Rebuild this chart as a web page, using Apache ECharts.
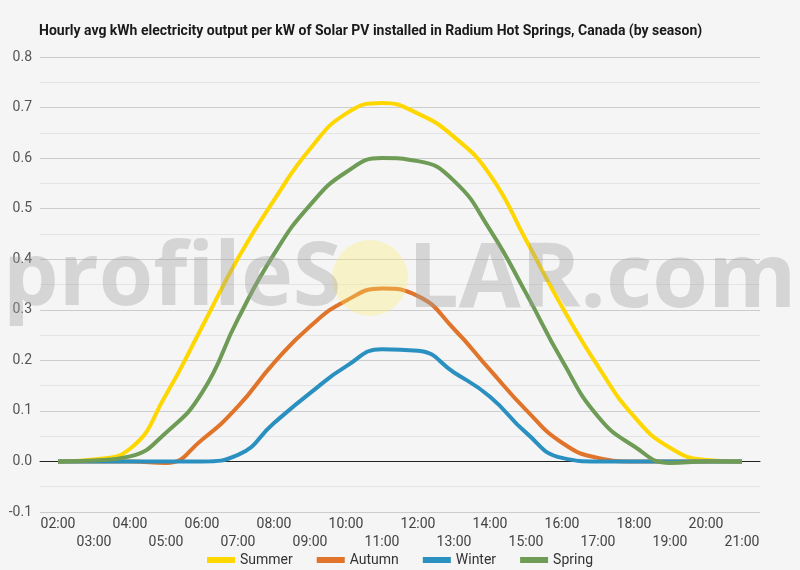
<!DOCTYPE html>
<html>
<head>
<meta charset="utf-8">
<script src="https://cdn.jsdelivr.net/npm/echarts@6/dist/echarts.min.js"></script>
<style>
html,body{margin:0;padding:0;background:#f5f5f5;}
#chart{width:800px;height:570px;}
</style>
</head>
<body>
<div id="chart"></div>
<script>
var hours = ['02:00','03:00','04:00','05:00','06:00','07:00','08:00','09:00','10:00','11:00',
             '12:00','13:00','14:00','15:00','16:00','17:00','18:00','19:00','20:00','21:00'];
var summer = [0, 0.004, 0.025, 0.132, 0.266, 0.402, 0.517, 0.618, 0.688, 0.709,
              0.688, 0.642, 0.567, 0.438, 0.306, 0.188, 0.089, 0.027, 0.003, 0];
var autumn = [0, 0, 0, -0.003, 0.043, 0.109, 0.195, 0.267, 0.318, 0.342,
              0.327, 0.262, 0.181, 0.102, 0.037, 0.007, 0, 0, 0, 0];
var winter = [0, 0, 0, 0, 0, 0.013, 0.076, 0.135, 0.188, 0.222,
              0.219, 0.176, 0.128, 0.057, 0.007, 0, 0, 0, 0, 0];
var spring = [0, 0.002, 0.01, 0.057, 0.136, 0.282, 0.41, 0.507, 0.572, 0.6,
              0.594, 0.555, 0.458, 0.333, 0.2, 0.089, 0.03, -0.003, 0, 0];
var seriesNames = ['Summer', 'Autumn', 'Winter', 'Spring'];
var seriesColors = ['#FFD700', '#E0742A', '#2A90C0', '#6E9B55'];
var yTicks = [-0.1, 0, 0.1, 0.2, 0.3, 0.4, 0.5, 0.6, 0.7, 0.8];

var seriesData = [summer, autumn, winter, spring];
var chart = echarts.init(document.getElementById('chart'));
var FONT = 'Roboto';
chart.setOption({
  backgroundColor: '#f5f5f5',
  animation: false,
  title: {
    text: 'Hourly avg kWh electricity output per kW of Solar PV installed in Radium Hot Springs, Canada (by season)',
    left: 34, top: 19,
    textStyle: {fontFamily: FONT, fontSize: 14, fontWeight: 'bold', color: '#1a1a1a'}
  },
  legend: {
    top: 548, left: 'center',
    icon: 'rect', itemWidth: 28, itemHeight: 6, itemGap: 24,
    textStyle: {fontFamily: FONT, fontSize: 14, color: '#333'},
    data: seriesNames
  },
  grid: {left: 40, right: 40, top: 57, bottom: 58, containLabel: false},
  xAxis: {
    type: 'category',
    data: hours,
    boundaryGap: true,
    axisLine: {onZero: true, lineStyle: {color: '#222', width: 1}},
    axisTick: {show: false},
    axisLabel: {
      interval: 0, hideOverlap: false, margin: 3,
      fontFamily: FONT, fontSize: 14, color: '#444', lineHeight: 18,
      formatter: function (v, i) { return (i % 2 === 1) ? '\n' + v : v; }
    },
    splitLine: {show: false}
  },
  yAxis: {
    type: 'value',
    min: yTicks[0], max: yTicks[yTicks.length - 1], interval: 0.1,
    axisLine: {show: false},
    axisTick: {show: false},
    axisLabel: {
      margin: 8, fontFamily: FONT, fontSize: 14, color: '#555',
      formatter: function (v) { return v.toFixed(1); }
    },
    splitLine: {lineStyle: {color: '#cccccc', width: 1}},
    minorTick: {show: false, splitNumber: 2},
    minorSplitLine: {show: true, lineStyle: {color: '#e4e4e4', width: 1}}
  },
  graphic: [
    {type: 'text', left: 3, top: 236, z: 100, silent: true,
     style: {text: 'profileS', fontFamily: 'Open Sans', fontWeight: 'bold', fontSize: 88,
             fill: 'rgba(160,160,160,0.38)'}},
    {type: 'circle', shape: {cx: 370, cy: 278, r: 38}, z: 99, silent: true,
     style: {fill: 'rgba(255,238,110,0.33)'}},
    {type: 'text', left: 408, top: 236, z: 100, silent: true,
     style: {text: 'LAR.com', fontFamily: 'Open Sans', fontWeight: 'bold', fontSize: 90,
             fill: 'rgba(160,160,160,0.38)'}}
  ],
  series: seriesNames.map(function (n, i) {
    return {
      name: n, type: 'line', data: seriesData[i], smooth: 0.5,
      showSymbol: false, symbol: 'none',
      lineStyle: {width: 4, color: seriesColors[i]},
      itemStyle: {color: seriesColors[i]}
    };
  })
});
</script>
</body>
</html>
